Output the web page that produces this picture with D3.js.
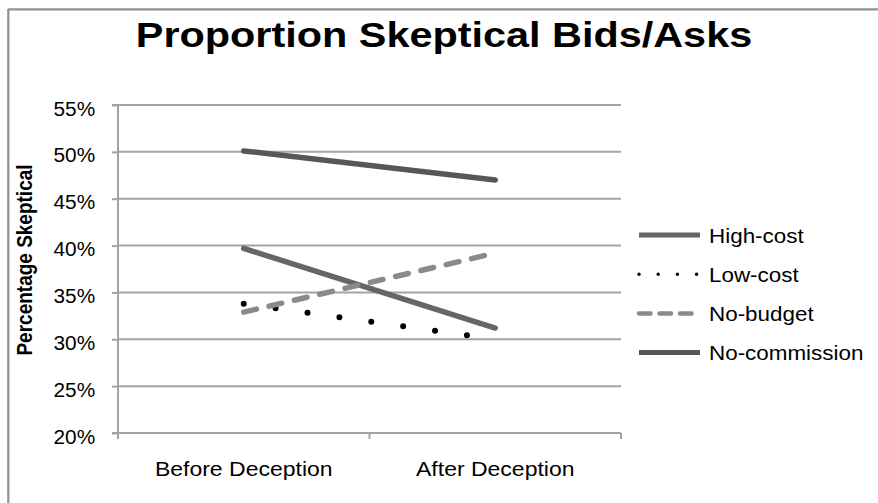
<!DOCTYPE html>
<html>
<head>
<meta charset="utf-8">
<script src="https://cdn.jsdelivr.net/npm/d3@7"></script>
<style>
  html, body { margin: 0; padding: 0; background: #fff; }
  svg { display: block; font-family: "Liberation Sans", Arial, Helvetica, sans-serif; }
</style>
</head>
<body>
<svg id="chart" width="878" height="503"></svg>
<script>
// ---- data ----
const title = "Proportion Skeptical Bids/Asks";
const yTitle = "Percentage Skeptical";
const categories = ["Before Deception", "After Deception"];
const seriesNames = ["High-cost", "Low-cost", "No-budget", "No-commission"];
const highCost = [39.7, 31.2];
const lowCost = [33.8, 30.0];
const noBudget = [32.9, 39.2];
const noCommission = [50.1, 47.0];
const yTicks = [20, 25, 30, 35, 40, 45, 50, 55];

const seriesValues = [highCost, lowCost, noBudget, noCommission];

// ---- styles ----
const styles = {
  "High-cost":     { color: "#666666", width: 5.5, dash: null, lw: 5, ldash: null },
  "Low-cost":      { color: "#000000", width: 6,   dash: "0 32.2", lw: 3.5, ldash: "0 19.2" },
  "No-budget":     { color: "#8a8a8a", width: 5.5, dash: "13 13", lw: 4.5, ldash: "11.5 9" },
  "No-commission": { color: "#575757", width: 5.5, dash: null, lw: 5, ldash: null }
};
const SX = 1.15; // horizontal stretch of the reference's glyphs

const svg = d3.select("#chart");
const pL = 118, pR = 621, pT = 105, pB = 433;

const x = d3.scalePoint().domain(categories).range([pL, pR]).padding(0.5);
const y = d3.scaleLinear().domain([20, 55]).range([pB, pT]);

// frame
svg.append("line").attr("x1", 8).attr("x2", 878).attr("y1", 9.3).attr("y2", 9.3)
  .attr("stroke", "#909090").attr("stroke-width", 2.2);
svg.append("line").attr("x1", 8.3).attr("x2", 8.3).attr("y1", 9).attr("y2", 503)
  .attr("stroke", "#909090").attr("stroke-width", 2.2);

// title
svg.append("text")
  .attr("transform", `translate(444,47) scale(${SX},1)`)
  .attr("text-anchor", "middle")
  .attr("font-weight", "bold")
  .attr("font-size", 36)
  .attr("fill", "#000")
  .text(title);

// gridlines
svg.append("g").selectAll("line")
  .data(yTicks.filter(d => d !== 20))
  .join("line")
  .attr("x1", pL).attr("x2", pR)
  .attr("y1", d => y(d)).attr("y2", d => y(d))
  .attr("stroke", "#a3a3a3").attr("stroke-width", 2);

// y axis
const yAxis = svg.append("g")
  .attr("transform", `translate(${pL},0)`)
  .call(d3.axisLeft(y).tickValues(yTicks).tickSize(6).tickPadding(16).tickFormat(d => d + "%"));
yAxis.selectAll("path, line").attr("stroke", "#a3a3a3").attr("stroke-width", 2);
yAxis.select(".domain").attr("d", `M-6,${pT}H0V${pB}H-6`);
yAxis.selectAll("text")
  .attr("font-size", 20)
  .attr("font-family", "Liberation Sans, Arial, sans-serif")
  .attr("fill", "#000")
  .attr("dy", "0.5em")
  .attr("transform", "scale(1.04,1)");

// x axis
const xAxis = svg.append("g")
  .attr("transform", `translate(0,${pB})`);
const xBand = d3.scaleBand().domain(categories).range([pL, pR]);
xAxis.append("line").attr("x1", pL).attr("x2", pR).attr("y1", 0).attr("y2", 0)
  .attr("stroke", "#a3a3a3").attr("stroke-width", 2);
const xTickPos = categories.map(c => xBand(c)).concat([xBand(categories[categories.length - 1]) + xBand.bandwidth()]);
xAxis.selectAll("line.tk").data(xTickPos).join("line").attr("class", "tk")
  .attr("x1", d => d).attr("x2", d => d).attr("y1", 0).attr("y2", 6)
  .attr("stroke", "#a3a3a3").attr("stroke-width", 2);
xAxis.selectAll("text").data(categories).join("text")
  .attr("transform", d => `translate(${x(d)},43) scale(${SX},1)`)
  .attr("text-anchor", "middle")
  .attr("font-size", 20)
  .attr("fill", "#000")
  .text(d => d);

// y axis title
svg.append("text")
  .attr("transform", "translate(32,260) rotate(-90) scale(1,1.15)")
  .attr("text-anchor", "middle")
  .attr("font-weight", "bold")
  .attr("font-size", 19)
  .attr("fill", "#000")
  .text(yTitle);

// series lines
const line = d3.line().x((d, i) => x(categories[i])).y(d => y(d));
svg.append("g").selectAll("path")
  .data(seriesNames.map((n, i) => ({ name: n, values: seriesValues[i] })))
  .join("path")
  .attr("d", d => line(d.values))
  .attr("fill", "none")
  .attr("stroke", d => styles[d.name].color)
  .attr("stroke-width", d => styles[d.name].width)
  .attr("stroke-linecap", "round")
  .attr("stroke-dasharray", d => styles[d.name].dash);

// legend
const lg = svg.append("g").selectAll("g")
  .data(seriesNames)
  .join("g")
  .attr("transform", (d, i) => `translate(639,${235 + i * 39.2})`);
lg.append("line")
  .attr("x1", 0).attr("x2", 61).attr("y1", 0).attr("y2", 0)
  .attr("stroke", d => styles[d].color)
  .attr("stroke-width", d => styles[d].lw)
  .attr("stroke-linecap", d => styles[d].ldash ? "round" : "butt")
  .attr("stroke-dasharray", d => styles[d].ldash);
lg.append("text")
  .attr("transform", `translate(70,7.5) scale(${SX},1)`)
  .attr("font-size", 19.5)
  .attr("fill", "#000")
  .text(d => d);
</script>
</body>
</html>
